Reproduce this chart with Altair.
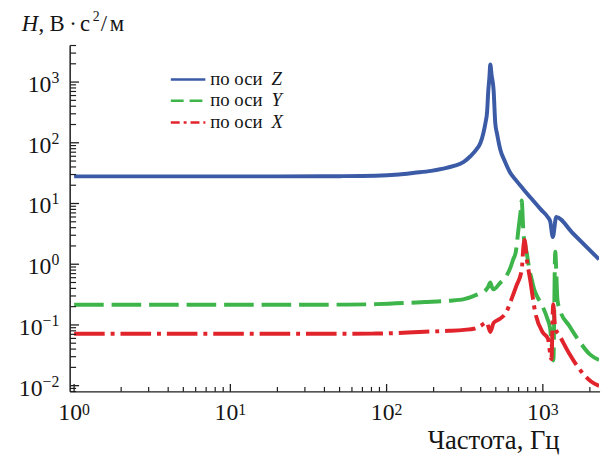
import altair as alt
import pandas as pd

# ---- data ----
z_freq = [1, 5, 20, 50, 85, 120, 151, 193, 230, 270, 310, 345, 375, 399, 415, 429, 440, 447, 455, 461,
          470, 484, 496, 510, 534, 570, 617, 676, 748, 866, 970, 1077, 1114, 1158, 1218, 1549, 2290]
z_val = [28, 28, 28, 28.2, 28.6, 30, 32, 34.5, 37.5, 41.6, 48, 60.6, 77, 100, 140, 211, 330, 690, 1200, 1950,
         1300, 736, 211, 138, 77.8, 50, 32.4, 23.8, 17.4, 11.2, 8.0, 5.94, 5.1, 2.81, 6.0, 3.27, 1.2]

y_freq = [1, 10, 50, 85, 175, 250, 313, 362, 400, 426, 445, 461, 472, 484, 530, 584, 620, 645, 672, 697,
          722, 733, 742, 751, 770, 788, 820, 849, 880, 915, 970, 1013, 1070, 1114, 1140, 1168, 1200, 1240,
          1280, 1475, 1700, 2000, 2290]
y_val = [0.215, 0.215, 0.216, 0.22, 0.238, 0.25, 0.266, 0.301, 0.336, 0.362, 0.417, 0.5, 0.42, 0.386, 0.484,
         0.636, 0.88, 1.19, 1.62, 3.65, 7.72, 11.2, 6.4, 3.27, 2.08, 1.55, 0.817, 0.562, 0.386, 0.301, 0.229,
         0.183, 0.126, 0.0865, 0.0457, 0.026, 1.6, 0.26, 0.183, 0.0966, 0.0552, 0.0327, 0.0264]

x_freq = [1, 10, 50, 85, 175, 250, 313, 362, 400, 437, 461, 484, 531, 584, 630, 676, 733, 751, 764, 790,
          829, 893, 1000, 1077, 1135, 1165, 1200, 1280, 1475, 1700, 2036, 2290]
x_val = [0.0716, 0.0716, 0.0718, 0.072, 0.0773, 0.08, 0.083, 0.0865, 0.0966, 0.111, 0.0764, 0.108, 0.126,
         0.163, 0.266, 0.437, 0.817, 1.95, 2.51, 1.19, 0.562, 0.163, 0.075, 0.0599, 0.0271, 0.22, 0.09,
         0.0665, 0.0339, 0.0193, 0.0117, 0.0099]

series_labels = ["по оси", "по оси", "по оси"]
series_axes = ["Z", "Y", "X"]
colors = ["#3b5ba6", "#3db54a", "#e1242b"]

x_major = [1, 10, 100, 1000]
x_major_exp = ["0", "1", "2", "3"]
x_minor = [2, 3, 4, 5, 6, 7, 8, 9, 20, 30, 40, 50, 60, 70, 80, 90,
           200, 300, 400, 500, 600, 700, 800, 900, 2000]
y_major_pos = [1, 10, 100, 1000]
y_major_pos_exp = ["0", "1", "2", "3"]
y_major_neg = [0.1, 0.01]
y_major_neg_exp = ["\u22121", "\u22122"]
y_minor = [0.008, 0.009, 0.02, 0.03, 0.04, 0.05, 0.06, 0.07, 0.08, 0.09,
           0.2, 0.3, 0.4, 0.5, 0.6, 0.7, 0.8, 0.9, 2, 3, 4, 5, 6, 7, 8, 9,
           20, 30, 40, 50, 60, 70, 80, 90, 200, 300, 400, 500, 600, 700, 800, 900,
           2000, 3000, 4000]

x_title = "Частота, Гц"

# ---- chart ----
W, H = 536, 351
FONT = "'Liberation Serif', 'Times New Roman', serif"
AX = "#1e1e1e"
TXT = "#151515"

xs = alt.Scale(type="log", domain=[0.9435, 2290], nice=False)
ys = alt.Scale(type="log", domain=[0.0079, 4000], nice=False)


def line(freq, val, color, dash=None):
    df = pd.DataFrame({"f": freq, "H": val})
    kw = dict(color=color, strokeWidth=4, clip=True, strokeCap="butt", interpolate="monotone")
    if dash:
        kw["strokeDash"] = dash
    return alt.Chart(df).mark_line(**kw).encode(
        x=alt.X("f:Q", scale=xs, axis=None),
        y=alt.Y("H:Q", scale=ys, axis=None),
    )


one = pd.DataFrame({"a": [0]})

layers = [
    line(z_freq, z_val, colors[0]),
    line(y_freq, y_val, colors[1], [30, 8]),
    line(x_freq, x_val, colors[2], [31, 6, 4, 6]),
]

# axis lines
layers.append(alt.Chart(one).mark_rule(color=AX, strokeWidth=1.5).encode(
    x=alt.value(0), y=alt.value(0), y2=alt.value(H)))
layers.append(alt.Chart(one).mark_rule(color=AX, strokeWidth=1.5).encode(
    x=alt.value(0), x2=alt.value(W + 1), y=alt.value(H)))

# inward ticks
layers.append(alt.Chart(pd.DataFrame({"v": y_major_pos + y_major_neg})).mark_rule(color=AX, strokeWidth=1.3).encode(
    y=alt.Y("v:Q", scale=ys, axis=None), x=alt.value(0), x2=alt.value(9)))
layers.append(alt.Chart(pd.DataFrame({"v": y_minor})).mark_rule(color=AX, strokeWidth=1.2).encode(
    y=alt.Y("v:Q", scale=ys, axis=None), x=alt.value(0), x2=alt.value(6)))
layers.append(alt.Chart(pd.DataFrame({"v": x_major})).mark_rule(color=AX, strokeWidth=1.3).encode(
    x=alt.X("v:Q", scale=xs, axis=None), y=alt.value(H), y2=alt.value(H - 8)))
layers.append(alt.Chart(pd.DataFrame({"v": x_minor})).mark_rule(color=AX, strokeWidth=1.2).encode(
    x=alt.X("v:Q", scale=xs, axis=None), y=alt.value(H), y2=alt.value(H - 5)))

# y labels
for vals, exps, base_x in [(y_major_pos, y_major_pos_exp, -19), (y_major_neg, y_major_neg_exp, -28)]:
    d = pd.DataFrame({"v": vals, "e": exps})
    layers.append(alt.Chart(d).mark_text(font=FONT, fontSize=24, align="right", baseline="alphabetic",
                                         dy=10, text="10", color=TXT).encode(
        y=alt.Y("v:Q", scale=ys, axis=None), x=alt.value(base_x)))
    layers.append(alt.Chart(d).mark_text(font=FONT, fontSize=16, align="right", baseline="alphabetic",
                                         dy=1, color=TXT).encode(
        y=alt.Y("v:Q", scale=ys, axis=None), x=alt.value(-11), text="e:N"))

# x labels
dx_ = pd.DataFrame({"v": x_major, "e": x_major_exp})
layers.append(alt.Chart(dx_).mark_text(font=FONT, fontSize=24, align="right", baseline="alphabetic",
                                       dx=8, text="10", color=TXT).encode(
    x=alt.X("v:Q", scale=xs, axis=None), y=alt.value(H + 29)))
layers.append(alt.Chart(dx_).mark_text(font=FONT, fontSize=16, align="left", baseline="alphabetic",
                                       dx=8, color=TXT).encode(
    x=alt.X("v:Q", scale=xs, axis=None), y=alt.value(H + 23), text="e:N"))

# x title
layers.append(alt.Chart(one).mark_text(font=FONT, fontSize=27, align="right", baseline="alphabetic",
                                       text=x_title, color=TXT).encode(
    x=alt.value(496), y=alt.value(409)))

# y title
tparts = [
    ("H", -49, -15, 23, "italic"),
    (",", -32, -15, 23, "normal"),
    ("В", -21, -15, 23, "normal"),
    ("·", -1, -15, 23, "normal"),
    ("с", 10, -15, 23, "normal"),
    ("2", 23, -25, 14, "normal"),
    ("/", 31, -15, 23, "normal"),
    ("м", 40, -15, 23, "normal"),
]
for txt, px, py, fs, st in tparts:
    layers.append(alt.Chart(one).mark_text(font=FONT, fontSize=fs, fontStyle=st, align="left",
                                           baseline="alphabetic", text=txt, color=TXT).encode(
        x=alt.value(px), y=alt.value(py)))

# legend
leg_y = [34.5, 56, 78]
dashes = [None, [13, 6], [9, 4, 3, 4]]
for i in range(3):
    kw = dict(color=colors[i], strokeWidth=2.5)
    if dashes[i]:
        kw["strokeDash"] = dashes[i]
    layers.append(alt.Chart(one).mark_rule(**kw).encode(
        x=alt.value(102), x2=alt.value(137), y=alt.value(leg_y[i])))
    layers.append(alt.Chart(one).mark_text(font=FONT, fontSize=19, align="left", baseline="alphabetic",
                                           text=series_labels[i], color=TXT).encode(
        x=alt.value(142), y=alt.value(leg_y[i] + 5.5)))
    layers.append(alt.Chart(one).mark_text(font=FONT, fontSize=19, fontStyle="italic", align="left",
                                           baseline="alphabetic", text=series_axes[i], color=TXT).encode(
        x=alt.value(204), y=alt.value(leg_y[i] + 5.5)))

chart = alt.layer(*layers).properties(
    width=W, height=H,
    autosize=alt.AutoSizeParams(type="none"),
    padding={"left": 63, "top": 35, "right": 5, "bottom": 64},
).configure_view(stroke=None)

chart.save("out.html", embed_options={"renderer": "svg", "actions": False})
